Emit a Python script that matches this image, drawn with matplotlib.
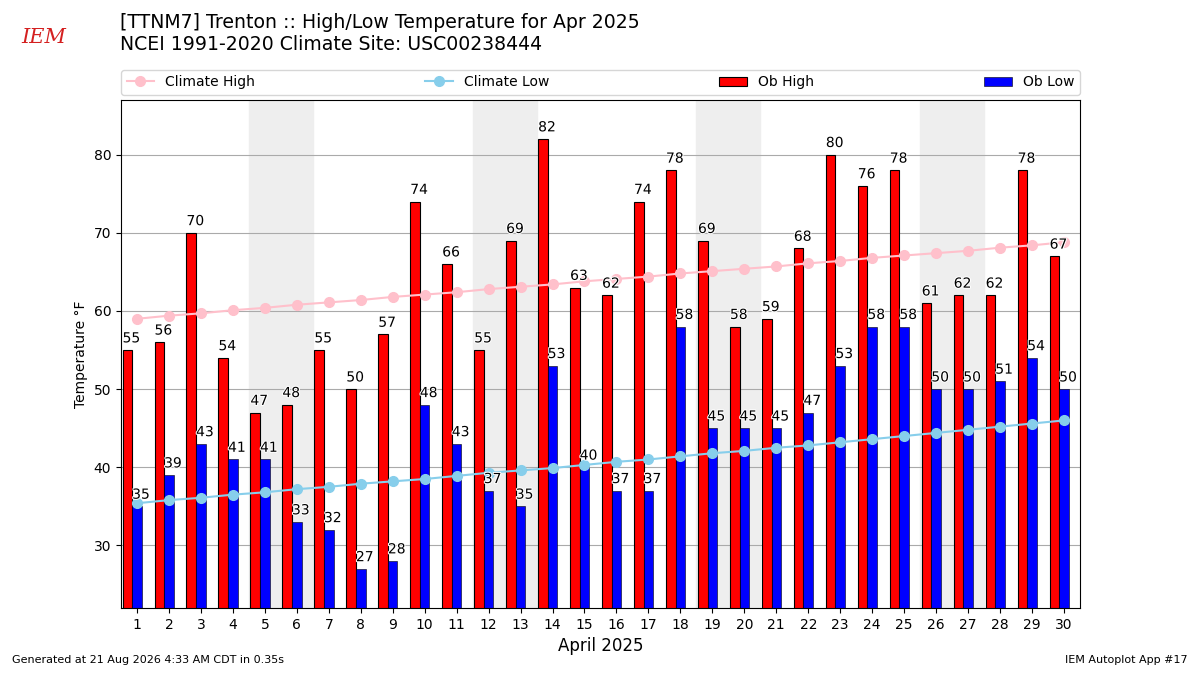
import matplotlib
matplotlib.use("Agg")
import matplotlib.pyplot as plt
import matplotlib.patheffects as pe
import numpy as np

days = list(range(1, 31))
ob_high = [55, 56, 70, 54, 47, 48, 55, 50, 57, 74, 66, 55, 69, 82, 63,
           62, 74, 78, 69, 58, 59, 68, 80, 76, 78, 61, 62, 62, 78, 67]
ob_low = [35, 39, 43, 41, 41, 33, 32, 27, 28, 48, 43, 37, 35, 53, 40,
          37, 37, 58, 45, 45, 45, 47, 53, 58, 58, 50, 50, 51, 54, 50]
clim_high = [59.0, 59.4, 59.7, 60.1, 60.4, 60.8, 61.1, 61.4, 61.8, 62.1,
             62.4, 62.8, 63.1, 63.4, 63.8, 64.1, 64.4, 64.8, 65.1, 65.4,
             65.7, 66.1, 66.4, 66.8, 67.1, 67.4, 67.7, 68.1, 68.4, 68.8]
clim_low = [35.4, 35.8, 36.1, 36.5, 36.8, 37.2, 37.5, 37.9, 38.2, 38.5,
            38.9, 39.3, 39.6, 39.9, 40.3, 40.7, 41.0, 41.4, 41.8, 42.1,
            42.5, 42.8, 43.2, 43.6, 44.0, 44.4, 44.8, 45.2, 45.6, 46.0]
weekends = [5, 12, 19, 26]  # saturdays

fig = plt.figure(figsize=(12, 6.75), dpi=100)
ax = fig.add_axes([0.1008, 0.0993, 0.7992, 0.7526])

x = np.array(days)
for sat in weekends:
    ax.axvspan(sat - 0.5, sat + 1.5, color="#eeeeee", zorder=0)

b1 = ax.bar(x - 0.3, ob_high, width=0.3, fc="r", ec="k", lw=0.8,
            label="Ob High", zorder=2)
b2 = ax.bar(x, ob_low, width=0.3, fc="b", ec="k", lw=0.4,
            label="Ob Low", zorder=2)
ax.plot(x, clim_high, color="pink", marker="o", ms=7, lw=1.5,
        label="Climate High", zorder=3)
ax.plot(x, clim_low, color="skyblue", marker="o", ms=7, lw=1.5,
        label="Climate Low", zorder=3)

# labels start at left edge of each bar
stroke = [pe.withStroke(linewidth=1.5, foreground="white")]
for xi, v in zip(x - 0.45, ob_high):
    ax.text(xi, v + 0.6, str(v), ha="left", va="bottom", fontsize=10,
            path_effects=stroke, zorder=4)
for xi, v in zip(x - 0.15, ob_low):
    ax.text(xi, v + 0.6, str(v), ha="left", va="bottom", fontsize=10,
            path_effects=stroke, zorder=4)

ax.set_xlim(0.5, 30.5)
ax.set_ylim(22, 87)
ax.set_xticks(days)
ax.set_yticks(range(30, 81, 10))
ax.yaxis.grid(True, color="#aaaaaa", zorder=1)
ax.set_axisbelow(True)
ax.set_ylabel("Temperature \u00b0F")
ax.set_xlabel("April 2025", fontsize=12)

handles = [ax.lines[0], ax.lines[1], b1, b2]
ax.legend(handles, [h.get_label() for h in handles], ncol=4,
          loc="lower left", bbox_to_anchor=(0, 1.01, 1, 0.05),
          mode="expand", borderaxespad=0, fontsize=10)

fig.text(0.1, 0.98, "[TTNM7] Trenton :: High/Low Temperature for Apr 2025\n"
         "NCEI 1991-2020 Climate Site: USC00238444", fontsize=13.6,
         va="top", ha="left", linespacing=1.2)
fig.text(0.018, 0.945, "IEM", color="#d42020", fontsize=15, style="italic",
         family="DejaVu Serif", ha="left", va="center")
fig.text(0.01, 0.015, "Generated at 21 Aug 2026 4:33 AM CDT in 0.35s",
         fontsize=8, ha="left", va="bottom")
fig.text(0.99, 0.015, "IEM Autoplot App #17", fontsize=8,
         ha="right", va="bottom")

fig.savefig("out.png", dpi=100)
